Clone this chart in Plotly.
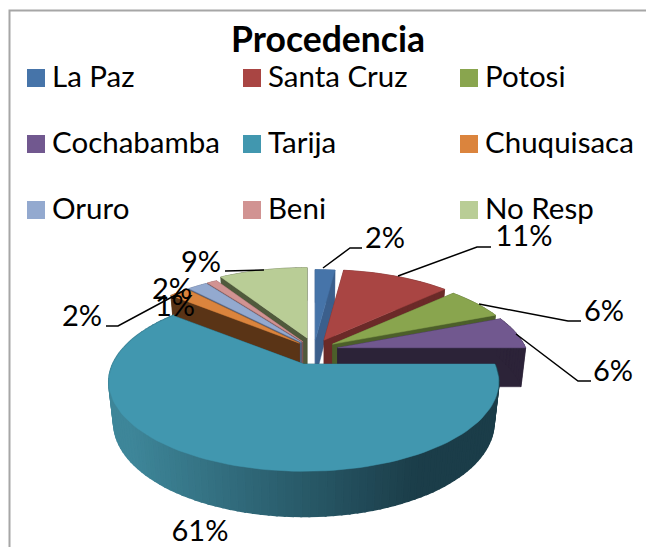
import math
import plotly.graph_objects as go

categories = ["La Paz", "Santa Cruz", "Potosi", "Cochabamba", "Tarija", "Chuquisaca", "Oruro", "Beni", "No Resp"]
percent = [2, 11, 6, 6, 61, 2, 2, 1, 9]
colors = ["#4674A9", "#A94543", "#89A54E", "#71588F", "#4197AF", "#DB843D", "#93A9CF", "#D19392", "#B9CD96"]
walls = ["#3B5F8C", "#6B2A28", "#4C5F2A", "#2C2338", "#1B3D49", "#5A3416", "#52617F", "#7D5554", "#505A3C"]
pulls = [20, 22, 22, 24, 30, 20, 20, 20, 25]
scales = [1, 1, 1, 1, 1.015, 1, 1, 1, 1]
draw_order = [8, 0, 1, 2, 7, 6, 5, 3, 4]

CX, CY, RX, RY, K = 314, 350, 192, 88, 0.2
S = math.sqrt(1 - K * K)
W, H = 646, 547


def project(t):
    a, b = math.sin(math.radians(t)), -math.cos(math.radians(t))
    d = 1 - K * b
    return a * S / d, (b - K) / d + K, b


def depth(b):
    return 39 + 6 * b


fig = go.Figure()


def poly(xs, ys, color, width=0.5):
    fig.add_trace(go.Scatter(x=xs, y=ys, mode="lines", fill="toself", fillcolor=color,
                             line=dict(color=color, width=width), hoverinfo="skip", showlegend=False))


def mix(c1, c2, f):
    p = [int(c1[i:i + 2], 16) for i in (1, 3, 5)]
    q = [int(c2[i:i + 2], 16) for i in (1, 3, 5)]
    return "rgb(%d,%d,%d)" % tuple(round(u + (v - u) * f) for u, v in zip(p, q))


starts = [sum(percent[:i]) * 3.6 for i in range(len(percent))]
for i in draw_order:
    t0 = starts[i]
    t1 = t0 + percent[i] * 3.6
    mid = (t0 + t1) / 2
    ax = CX + pulls[i] * math.sin(math.radians(mid))
    ay = CY - 0.5 * pulls[i] * math.cos(math.radians(mid))
    rx, ry = RX * scales[i], RY * scales[i]
    n = max(4, int((t1 - t0) / 2))
    ts = [t0 + (t1 - t0) * j / n for j in range(n + 1)]
    pts = [project(t) for t in ts]
    top = [(ax + rx * p[0], ay + ry * p[1]) for p in pts]
    bot = [(ax + 0.975 * rx * p[0], ay + ry * p[1] + depth(p[2])) for p in pts]
    base = (ax, ay + depth(0))
    poly([ax, top[0][0], bot[0][0], base[0], ax], [ay, top[0][1], bot[0][1], base[1], ay], walls[i])
    poly([ax, top[-1][0], bot[-1][0], base[0], ax], [ay, top[-1][1], bot[-1][1], base[1], ay], walls[i])
    for j in range(n):
        if categories[i] == "Tarija":
            f = min(1, max(0, (top[j][0] - 130) / 290))
            c = mix("#3E8699", "#1B3D49", f)
            w = 2
        else:
            c = walls[i]
            w = 0.5
        poly([top[j][0], top[j + 1][0], bot[j + 1][0], bot[j][0], top[j][0]],
             [top[j][1], top[j + 1][1], bot[j + 1][1], bot[j][1], top[j][1]], c, w)
    poly([ax] + [p[0] for p in top] + [ax], [ay] + [p[1] for p in top] + [ay], colors[i])

# legend drawn as three rows of three swatches and labels
swatch_x = [36, 252, 469] * 3
swatch_y = [78] * 3 + [144] * 3 + [210] * 3
label_left = [52, 268, 485] * 3
fig.add_trace(go.Scatter(x=swatch_x, y=swatch_y, mode="markers", hoverinfo="skip", showlegend=False,
                         marker=dict(symbol="square", size=18, color=colors)))
fig.add_trace(go.Scatter(x=label_left, y=[v + 2 for v in swatch_y], mode="text", text=categories,
                         textposition="middle right", hoverinfo="skip", showlegend=False,
                         textfont=dict(family="Lato", size=29.5, color="black")))

leaders = [
    ([323, 350, 362], [268, 248, 248]),
    ([398, 477, 491], [276, 247, 247]),
    ([479, 568, 581], [304, 321, 321]),
    ([516, 578, 591], [334, 381, 381]),
    ([106, 118, 185], [326, 326, 290]),
    ([225, 264], [271, 270]),
]
for xs, ys in leaders:
    fig.add_trace(go.Scatter(x=xs, y=ys, mode="lines", line=dict(color="black", width=1.5),
                             hoverinfo="skip", showlegend=False))

label_x = [385, 524, 604, 613, 200, 82, 172, 175, 201]
label_y = [241, 239, 314, 374, 534, 319, 292, 309, 265]
label_txt = [f"{p}%" for p in percent]
fig.add_trace(go.Scatter(x=label_x, y=label_y, mode="text", text=label_txt,
                         textposition="middle center", hoverinfo="skip", showlegend=False,
                         textfont=dict(family="Lato", size=29, color="black")))

fig.update_layout(
    width=W, height=H, autosize=False, margin=dict(l=0, r=0, t=0, b=0),
    paper_bgcolor="white", plot_bgcolor="white",
    xaxis=dict(range=[0, W], visible=False, fixedrange=True),
    yaxis=dict(range=[H, 0], visible=False, fixedrange=True),
    showlegend=False,
    title=dict(text="<b>Procedencia</b>", x=328 / W, xanchor="center", y=1 - 40 / H, yanchor="middle",
               font=dict(family="Lato", size=35.5, color="black")),
    shapes=[dict(type="rect", xref="x", yref="y", x0=9.5, y0=10.5, x1=700, y1=600,
                 line=dict(color="#A6A6A6", width=2), layer="below")],
)
fig.write_html("out.html", default_width=f"{W}px", default_height=f"{H}px",
               config={"displayModeBar": False},
               post_script="document.body.style.margin='0';document.documentElement.style.overflow='hidden';")
